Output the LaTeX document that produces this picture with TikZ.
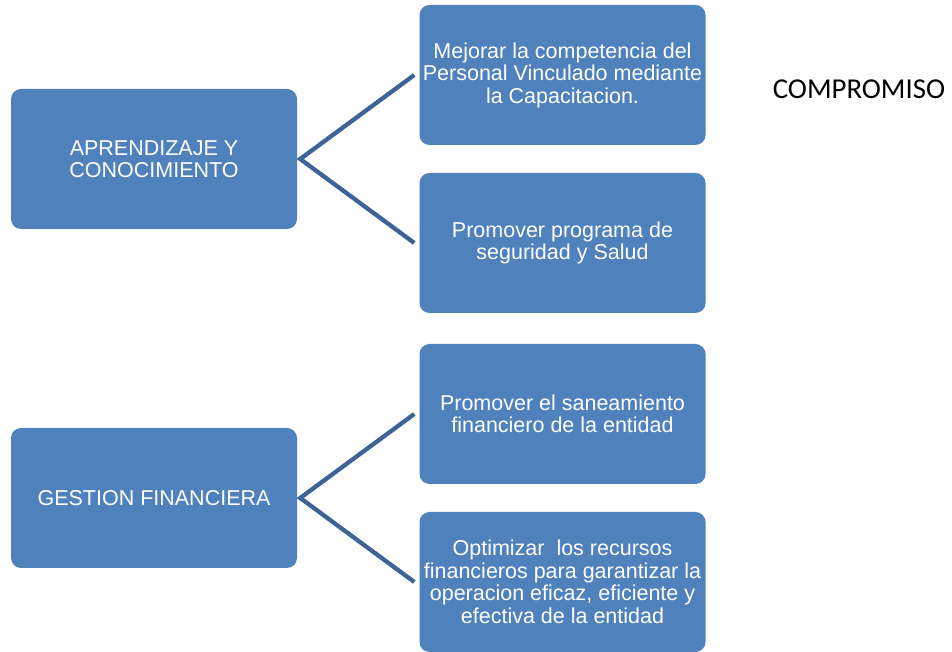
\documentclass[tikz,border=0pt]{standalone}
\usepackage{fontspec}
\setmainfont{Liberation Sans}
\newfontfamily\calibri{Carlito}

\definecolor{boxblue}{HTML}{4F81BD}
\definecolor{linkblue}{RGB}{60,100,150}

\begin{document}
\begin{tikzpicture}[x=1pt,y=1pt,
    goal/.style={rectangle, rounded corners=10pt, fill=boxblue,
      minimum width=286pt, minimum height=140pt, text=white,
      align=center, inner sep=2pt, font=\fontsize{21.5}{22.5}\selectfont},
    link/.style={draw=linkblue, line width=4.3pt}]
  \useasboundingbox (0,0) rectangle (952,652);

  \node [goal] (a1) at (154,493) {APRENDIZAJE Y\\CONOCIMIENTO};
  \node [goal] (a2) at (154,154) {GESTION FINANCIERA};

  \node [goal] (b1) at (562.5,577) {Mejorar la competencia del\\Personal Vinculado mediante\\la Capacitacion.};
  \node [goal] (b2) at (562.5,409) {Promover programa de\\seguridad y Salud};
  \node [goal] (b3) at (562.5,238) {Promover el saneamiento\\financiero de la entidad};
  \node [goal] (b4) at (562.5,70) {Optimizar~ los recursos\\financieros para garantizar la\\operacion eficaz, eficiente y\\efectiva de la entidad};

  \node [font=\calibri\fontsize{28.8}{32}\selectfont] (t) at (859,563) {COMPROMISO};

  \draw [link] ([xshift=-5pt]b1.west) -- ([xshift=3pt]a1.east) -- ([xshift=-5pt]b2.west);
  \draw [link] ([xshift=-5pt]b3.west) -- ([xshift=3pt]a2.east) -- ([xshift=-5pt]b4.west);
\end{tikzpicture}
\end{document}
